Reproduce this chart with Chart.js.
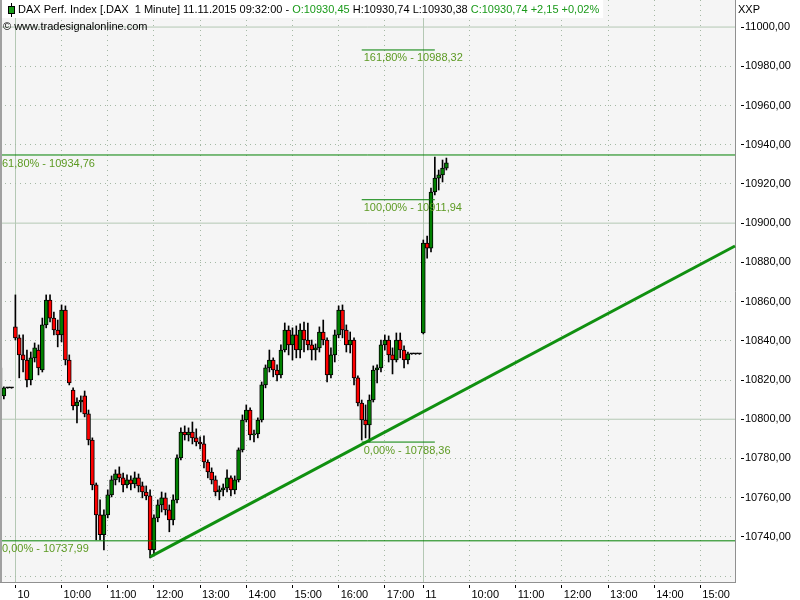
<!DOCTYPE html>
<html>
<head>
<meta charset="utf-8">
<title>DAX Perf. Index 1 Minute</title>
<script src="https://cdn.jsdelivr.net/npm/chart.js@4.4.0/dist/chart.umd.min.js"></script>
<style>
html, body { margin: 0; padding: 0; background: #fff; }
#wrap { width: 800px; height: 600px; }
</style>
</head>
<body>
<div id="wrap"><canvas id="chart" width="800" height="600"></canvas></div>
<script>
const el = (id) => document.getElementById(id);
const FAMILY = '"Liberation Sans", Arial, sans-serif';
const FONT = '11px ' + FAMILY;

/* TIME SLOTS (5 minute candles) */
const days = ['09.11.', '10.11.', '11.11.'];
const dayTicks = ['', '10', '11'];
const sessionFrom = ['17:30', '09:00', '09:00'];
const sessionTo = ['17:45', '17:45', '15:45'];

/* PRICES */
const opens = [
10826.2, 10811.9, 10816.0, 10816.0,
10847.1, 10841.5, 10832.8, 10830.2, 10820.0, 10831.3, 10835.3, 10825.1, 10848.1, 10860.8,
10851.6, 10845.5, 10843.0, 10855.7, 10830.2, 10814.9, 10806.8, 10808.8, 10811.9, 10802.7,
10789.4, 10766.5, 10751.2, 10741.1, 10751.2, 10761.4, 10769.1, 10772.1, 10770.1, 10766.5,
10769.1, 10767.0, 10770.1, 10766.0, 10762.9, 10760.9, 10733.4, 10749.7, 10756.3, 10759.9,
10753.8, 10748.7, 10758.9, 10780.3, 10793.5, 10792.0, 10793.5, 10790.5, 10788.4, 10787.4,
10778.2, 10773.1, 10769.1, 10762.9, 10764.0, 10765.0, 10770.1, 10764.0, 10769.1, 10784.4,
10799.6, 10804.7, 10792.0, 10792.5, 10799.6, 10817.5, 10826.2, 10830.2, 10825.1, 10822.6,
10835.3, 10845.5, 10837.9, 10843.0, 10835.3, 10845.5, 10840.4, 10837.9, 10835.3, 10836.4,
10844.5, 10840.4, 10822.6, 10832.8, 10843.0, 10855.7, 10845.5, 10837.9, 10840.4, 10821.1,
10808.3, 10799.6, 10797.1, 10809.8, 10825.1, 10826.2, 10837.9, 10840.4, 10832.8, 10830.2,
10840.4, 10835.3, 10830.2, 10833.3, 10833.3, 10833.3, 10844.0, 10889.9, 10887.3, 10915.9,
10923.0, 10924.6, 10928.1
];
const highs = [
10826.5, 10816.5, 10816.2, 10816.2,
10863.4, 10843.0, 10843.0, 10835.3, 10834.3, 10838.9, 10837.9, 10851.6, 10863.4, 10863.4,
10854.7, 10850.6, 10858.3, 10857.8, 10832.8, 10816.0, 10810.9, 10811.9, 10814.4, 10804.7,
10790.5, 10767.5, 10758.9, 10753.8, 10764.0, 10771.1, 10774.2, 10775.7, 10772.6, 10771.6,
10771.1, 10773.1, 10772.1, 10768.0, 10766.0, 10764.0, 10751.2, 10758.9, 10762.9, 10762.4,
10756.3, 10761.4, 10781.8, 10795.6, 10796.6, 10795.6, 10798.6, 10795.1, 10791.0, 10791.5,
10779.3, 10775.2, 10771.1, 10766.0, 10767.0, 10774.2, 10771.1, 10771.1, 10785.4, 10802.2,
10807.3, 10805.8, 10794.5, 10800.7, 10819.0, 10827.7, 10835.3, 10831.3, 10827.7, 10837.9,
10849.1, 10847.6, 10846.6, 10847.6, 10848.6, 10849.6, 10849.1, 10840.4, 10838.4, 10847.1,
10850.6, 10841.5, 10836.4, 10845.5, 10857.8, 10858.3, 10848.1, 10844.5, 10841.5, 10822.1,
10809.8, 10807.3, 10812.4, 10827.2, 10827.7, 10840.4, 10843.0, 10842.5, 10836.4, 10844.0,
10844.0, 10837.4, 10834.3, 10833.5, 10833.5, 10833.5, 10891.4, 10893.4, 10917.9, 10933.7,
10927.1, 10932.2, 10933.2
];
const lows = [
10807.3, 10810.4, 10815.8, 10815.8,
10840.4, 10821.1, 10824.1, 10816.5, 10817.5, 10829.2, 10822.6, 10824.1, 10846.6, 10849.6,
10843.0, 10836.9, 10839.4, 10827.7, 10817.5, 10804.7, 10798.1, 10803.7, 10801.2, 10786.9,
10764.0, 10738.5, 10738.5, 10733.4, 10749.7, 10760.4, 10766.5, 10768.0, 10762.9, 10765.0,
10764.0, 10765.0, 10762.9, 10759.9, 10758.9, 10729.3, 10730.3, 10747.7, 10752.7, 10751.2,
10742.6, 10746.1, 10757.3, 10779.3, 10789.4, 10788.9, 10787.4, 10786.4, 10784.9, 10775.2,
10770.1, 10767.0, 10760.9, 10758.9, 10760.9, 10762.9, 10760.9, 10761.9, 10768.0, 10783.3,
10798.6, 10789.4, 10788.4, 10790.5, 10798.6, 10816.0, 10824.1, 10821.6, 10819.5, 10821.1,
10834.3, 10832.8, 10830.2, 10831.3, 10831.3, 10834.3, 10835.3, 10830.2, 10830.2, 10834.3,
10837.9, 10819.0, 10821.1, 10829.2, 10841.5, 10841.5, 10834.3, 10833.8, 10817.5, 10806.8,
10789.4, 10790.5, 10788.4, 10808.8, 10818.5, 10824.1, 10835.3, 10829.2, 10823.1, 10829.2,
10831.3, 10826.2, 10828.2, 10833.1, 10833.1, 10833.1, 10843.5, 10882.2, 10885.3, 10914.4,
10916.9, 10921.0, 10927.1
];
const closes = [
10812.4, 10816.0, 10816.0, 10816.0,
10841.5, 10832.8, 10830.2, 10820.0, 10831.3, 10836.4, 10826.2, 10848.1, 10860.8, 10851.6,
10845.5, 10843.0, 10855.7, 10830.2, 10818.5, 10806.8, 10808.8, 10809.8, 10802.7, 10789.4,
10766.5, 10751.2, 10741.1, 10751.2, 10761.4, 10769.1, 10772.1, 10770.1, 10766.5, 10769.1,
10767.0, 10770.1, 10766.0, 10762.9, 10760.9, 10733.4, 10749.7, 10756.3, 10759.9, 10753.8,
10748.7, 10758.9, 10780.3, 10793.5, 10792.0, 10793.5, 10790.5, 10788.4, 10787.4, 10778.2,
10773.1, 10769.1, 10762.9, 10764.0, 10765.0, 10770.1, 10764.0, 10769.1, 10784.4, 10799.6,
10804.7, 10792.0, 10792.5, 10799.6, 10817.5, 10826.2, 10830.2, 10825.1, 10822.6, 10835.3,
10845.5, 10837.9, 10843.0, 10835.3, 10845.5, 10840.4, 10837.9, 10835.3, 10836.4, 10844.5,
10840.4, 10822.6, 10832.8, 10843.0, 10855.7, 10845.5, 10837.9, 10840.4, 10821.1, 10808.3,
10799.6, 10797.1, 10809.8, 10825.1, 10826.2, 10837.9, 10840.4, 10832.8, 10830.2, 10840.4,
10835.3, 10830.2, 10833.3, 10833.3, 10833.3, 10833.3, 10889.9, 10887.3, 10915.9, 10923.0,
10924.6, 10928.1, 10930.74
];

/* FIBONACCI LEVELS */
const fibText = ['161,80% - 10988,32', '61,80% - 10934,76', '100,00% - 10911,94', '0,00% - 10788,36', '0,00% - 10737,99'];
const fibValue = [10988.32, 10934.76, 10911.94, 10788.36, 10737.99];
const fibFrom = ['10.11. 16:30', '09.11. 17:30', '10.11. 16:30', '10.11. 16:30', '09.11. 17:30'];
const fibTo = ['11.11. 09:15', '11.11. 15:45', '11.11. 09:15', '11.11. 09:15', '11.11. 15:45'];

/* TREND LINE */
const trendFrom = '10.11. 11:55';
const trendTo = '11.11. 15:45';
const trendValue = [10729.8, 10888.35];

/* AXIS */
const yMin = 10717;
const yMax = 11013.8;
const majorLevels = [10800, 10900, 11000];

/* HEADER */
const headParts = ['DAX Perf. Index [.DAX  1 Minute] 11.11.2015 09:32:00 - ', 'O:10930,45', ' H:10930,74 L:10930,38 ', 'C:10930,74 +2,15 +0,02%'];
const headColors = ['#000', '#1a9a1a', '#000', '#1a9a1a'];

/* BUILD CATEGORIES */
const toMin = (t) => +t.slice(0, 2) * 60 + +t.slice(3);
const toTime = (m) => String(Math.floor(m / 60)).padStart(2, '0') + ':' + String(m % 60).padStart(2, '0');

const labels = [];
const tickText = [];
const dayStart = [];
days.forEach((d, k) => {
  for (let m = toMin(sessionFrom[k]); m <= toMin(sessionTo[k]); m += 5) {
    const t = toTime(m);
    labels.push(d + ' ' + t);
    const first = t === '09:00';
    dayStart.push(first);
    tickText.push(first ? dayTicks[k] : (k > 0 && t.endsWith(':00') ? t : ''));
  }
});
const firstLabel = labels[0];
const lastLabel = labels[labels.length - 1];

function segment(from, to, a, b) {
  const d = labels.map(() => null);
  d[labels.indexOf(from)] = a;
  d[labels.indexOf(to)] = b;
  return d;
}

const UP = '#008000';
const DOWN = '#ff0000';
const DOTTED = '#a4b8a4';
const SOLID = '#b4c8b4';

const bodyColor = (c) => {
  const i = c.dataIndex;
  if (closes[i] > opens[i]) return UP;
  if (closes[i] < opens[i]) return DOWN;
  return '#000';
};

const flatLine = (data, color, width) => ({
  type: 'line',
  data,
  borderColor: color,
  borderWidth: width,
  pointRadius: 0,
  spanGaps: true,
  fill: false
});

/* datasets listed first are painted last (on top) */
const datasets = fibValue.map((v, i) => flatLine(segment(fibFrom[i], fibTo[i], v, v), '#008000', 1));

datasets.push(flatLine(segment(trendFrom, trendTo, trendValue[0], trendValue[1]), '#109010', 3));

datasets.push({
  type: 'bar',
  data: opens.map((o, i) => [o, closes[i]]),
  backgroundColor: bodyColor,
  borderColor: '#000',
  borderWidth: 1,
  borderSkipped: false,
  barThickness: 4,
  minBarLength: 1,
  grouped: false
});

datasets.push({
  type: 'bar',
  data: lows.map((l, i) => [l, highs[i]]),
  backgroundColor: '#000',
  borderWidth: 0,
  barThickness: 1,
  grouped: false
});

/* solid major grid levels, under everything */
majorLevels.forEach(v => datasets.push(flatLine(segment(firstLabel, lastLabel, v, v), SOLID, 1)));

/* PLUGINS */
const plotBg = {
  id: 'plotBg',
  beforeDraw(c) {
    const {ctx, chartArea: a} = c;
    ctx.save();
    ctx.fillStyle = '#f5f5f5';
    ctx.fillRect(a.left, a.top, a.right - a.left, a.bottom - a.top);
    ctx.restore();
  }
};

const fibLabels = {
  id: 'fibLabels',
  afterDatasetsDraw(c) {
    const {ctx, scales: {x, y}} = c;
    ctx.save();
    ctx.font = FONT;
    ctx.fillStyle = '#5c9a22';
    ctx.textBaseline = 'top';
    fibText.forEach((t, i) => {
      ctx.fillText(t, x.getPixelForValue(labels.indexOf(fibFrom[i])) + 2, y.getPixelForValue(fibValue[i]) + 3);
    });
    ctx.restore();
  }
};

const header = {
  id: 'header',
  afterDraw(c) {
    const {ctx, chartArea: a} = c;
    ctx.save();
    ctx.font = FONT;
    ctx.textBaseline = 'middle';

    let w = 18;
    headParts.forEach(p => w += ctx.measureText(p).width);
    ctx.fillStyle = '#fff';
    ctx.fillRect(0, 0, w + 4, 18);

    // candle icon
    ctx.fillStyle = '#000';
    ctx.fillRect(11, 3, 1, 14);
    ctx.fillRect(8, 6, 7, 8);
    ctx.fillStyle = '#1a9a1a';
    ctx.fillRect(9, 7, 5, 6);

    let px = 18;
    headParts.forEach((p, i) => {
      ctx.fillStyle = headColors[i];
      ctx.fillText(p, px, 10);
      px += ctx.measureText(p).width;
    });

    ctx.fillStyle = '#000';
    ctx.fillText('\u00a9 www.tradesignalonline.com', 3, 27);
    ctx.fillText('XXP', 738, 10);

    // left frame
    ctx.fillStyle = '#a0a0a0';
    ctx.fillRect(0, 0, 2, a.bottom);
    ctx.restore();
  }
};

const noPad = (s) => {
  s.paddingTop = 0;
  s.paddingBottom = 0;
  s.paddingLeft = 0;
  s.paddingRight = 0;
};

/* CHART */
new Chart(el('chart'), {
  type: 'bar',
  data: { labels, datasets },
  options: {
    responsive: false,
    animation: false,
    layout: { padding: 0, autoPadding: false },
    plugins: { legend: { display: false }, tooltip: { enabled: false } },
    scales: {
      x: {
        type: 'category',
        offset: false,
        grid: {
          offset: false,
          color: (c) => tickText[c.index] && !dayStart[c.index] ? DOTTED : 'transparent',
          tickColor: (c) => tickText[c.index] ? '#000' : 'transparent',
          tickLength: 6,
          tickBorderDash: [0, 2, 4, 20]
        },
        border: { color: '#909090', dash: [1, 4] },
        ticks: {
          autoSkip: false,
          maxRotation: 0,
          minRotation: 0,
          align: 'start',
          labelOffset: 2,
          padding: 0,
          color: '#000',
          font: { family: FAMILY, size: 11 },
          callback: (v, i) => tickText[i]
        },
        afterFit: (s) => { s.height = 18; noPad(s); }
      },
      xDay: {
        type: 'category',
        position: 'bottom',
        offset: false,
        grid: {
          offset: false,
          color: (c) => dayStart[c.index] ? SOLID : 'transparent',
          drawTicks: false
        },
        border: { display: false },
        ticks: { display: false, autoSkip: false },
        afterFit: (s) => { s.height = 0; noPad(s); }
      },
      y: {
        position: 'right',
        min: yMin,
        max: yMax,
        grid: {
          color: (c) => c.tick.value % 100 === 0 ? 'transparent' : DOTTED,
          tickColor: (c) => c.tick.value < 10730 ? 'transparent' : '#000',
          tickLength: 9,
          tickBorderDash: [0, 5, 4, 20]
        },
        border: { color: '#909090', dash: [1, 4] },
        ticks: {
          stepSize: 20,
          includeBounds: false,
          padding: 1,
          color: '#000',
          font: { family: FAMILY, size: 11 },
          callback: (v) => v < 10730 ? '' : v.toFixed(2).replace('.', ',')
        },
        afterFit: (s) => { s.width = 65; noPad(s); }
      }
    }
  },
  plugins: [plotBg, fibLabels, header]
});
</script>
</body>
</html>
